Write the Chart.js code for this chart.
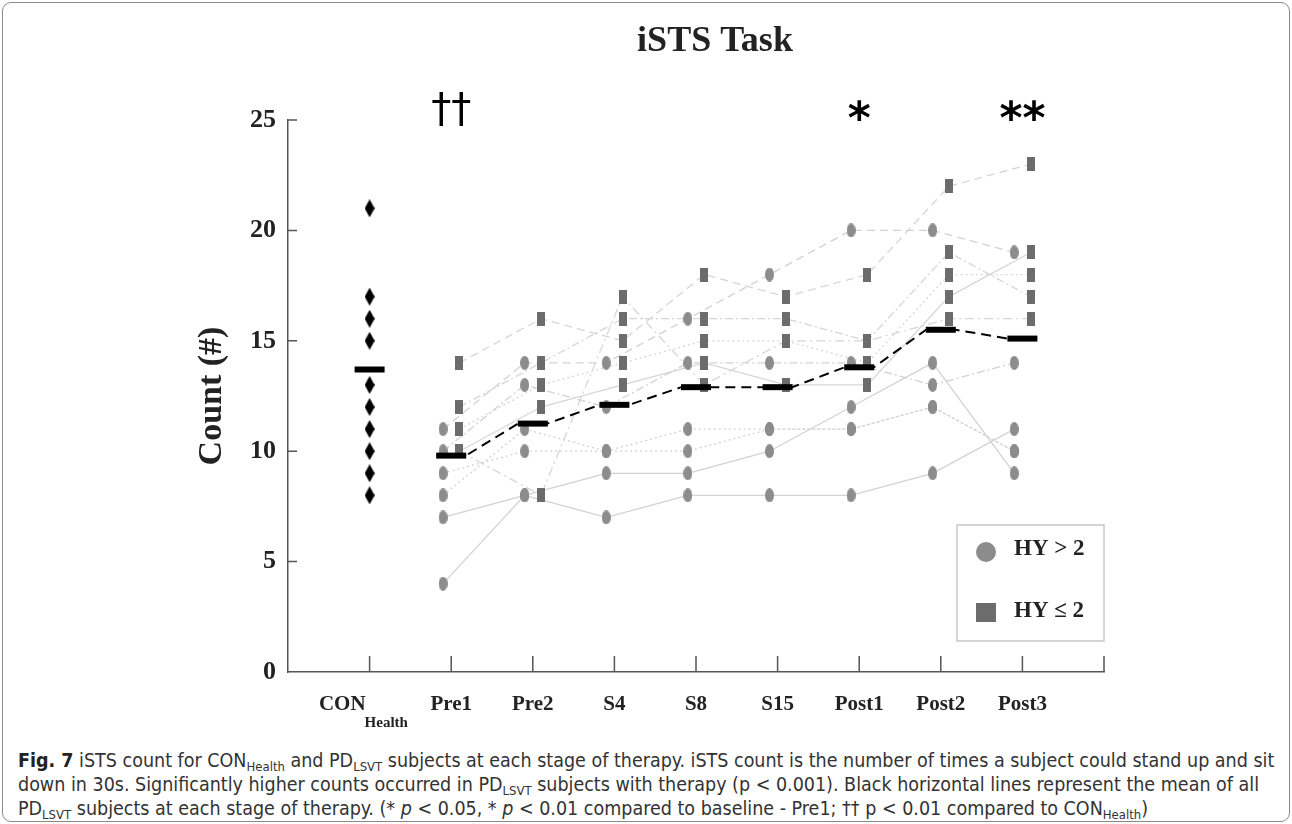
<!DOCTYPE html>
<html>
<head>
<meta charset="utf-8">
<script src="https://cdn.jsdelivr.net/npm/chart.js@4.4.1/dist/chart.umd.min.js"></script>
<style>
  html, body { margin: 0; padding: 0; background: #fff; }
  body { width: 1292px; height: 824px; position: relative; overflow: hidden; }
  #frame { position: absolute; left: 2px; top: 2px; width: 1286px; height: 818px;
           border: 1px solid #8a8a8a; border-radius: 9px; }
  #chartBox { position: absolute; left: 0; top: 0; }
  #caption { position: absolute; left: 18px; top: 749px; width: 1265px;
             font-family: "Liberation Sans Narrow", "DejaVu Sans Condensed", sans-serif;
             font-size: 19.5px; line-height: 24px; color: #333; white-space: nowrap; }
  #caption b { color: #222; }
  #caption sub { font-size: 13px; vertical-align: -4px; line-height: 0; }
</style>
</head>
<body>
<div id="chartBox"><canvas id="istsChart" width="1292" height="745"></canvas></div>
<div id="caption">
  <b>Fig. 7</b> iSTS count for CON<sub>Health</sub> and PD<sub>LSVT</sub> subjects at each stage of therapy. iSTS count is the number of times a subject could stand up and sit<br>
  down in 30s. Significantly higher counts occurred in PD<sub>LSVT</sub> subjects with therapy (p &lt; 0.001). Black horizontal lines represent the mean of all<br>
  PD<sub>LSVT</sub> subjects at each stage of therapy. (* <i>p</i> &lt; 0.05, * <i>p</i> &lt; 0.01 compared to baseline - Pre1; †† p &lt; 0.01 compared to CON<sub>Health</sub>)
</div>
<div id="frame"></div>
<script>
// iSTS 任務：各階段次數

const stages = ['CON', 'Pre1', 'Pre2', 'S4', 'S8', 'S15', 'Post1', 'Post2', 'Post3'];
const yTicks = [0, 5, 10, 15, 20, 25];

// 健康對照組
const conValues = [21, 17, 16, 15, 13, 12, 11, 10, 9, 8];

// 各階段平均（CON, Pre1 ... Post3）
const meanValues = [13.7, 9.8, 11.25, 12.1, 12.9, 12.9, 13.8, 15.5, 15.1];

// HY > 2 受試者（Pre1 ... Post3）
const hyHighA = [7, 8, 7, 8, 8, 8, 9, 11];
const hyHighB = [4, 8, 9, 9, 10, 12, 14, 9];
const hyHighC = [9, 10, 10, 10, 11, 11, 12, 10];
const hyHighD = [8, 11, 10, 11, 11, 11, 12, 10];
const hyHighE = [11, 14, 14, 16, 18, 20, 20, 19];
const hyHighF = [10, 13, 12, 14, 14, 14, 13, 14];

// HY <= 2 受試者
const hyLowA = [14, 16, 15, 18, 17, 18, 22, 23];
const hyLowB = [12, 14, 16, 16, 16, 15, 19, 17];
const hyLowC = [11, 13, 14, 15, 15, 14, 18, 18];
const hyLowD = [10, 12, 13, 14, 13, 13, 17, 19];
const hyLowE = [10, 8, 17, 13, 15, 15, 16, 16];

const hyHighGroup = [hyHighA, hyHighB, hyHighC, hyHighD, hyHighE, hyHighF];
const hyLowGroup = [hyLowA, hyLowB, hyLowC, hyLowD, hyLowE];

const serif = 'Liberation Serif';
const lineDashes = [[], [], [2, 3], [2, 3], [8, 5], [8, 3, 2, 3]];
const lowDashes = [[8, 5], [8, 3, 2, 3], [2, 3], [], [9, 4, 2, 4]];

// 標記圖形
const makeMarker = (w, h, color, shape) => {
    const c = document.createElement('canvas');
    c.width = w; c.height = h;
    const g = c.getContext('2d');
    g.fillStyle = color;
    g.beginPath();
    if (shape === 'ellipse') {
        g.ellipse(w / 2, h / 2, w / 2, h / 2, 0, 0, Math.PI * 2);
    } else if (shape === 'diamond') {
        g.moveTo(w / 2, 0); g.lineTo(w, h / 2); g.lineTo(w / 2, h); g.lineTo(0, h / 2);
    } else {
        g.rect(0, 0, w, h);
    }
    g.fill();
    return c;
};
const circleMark = makeMarker(9, 14, '#8c8c8c', 'ellipse');
const squareMark = makeMarker(8, 14, '#6c6c6c', 'rect');
const diamondMark = makeMarker(10, 18, '#000', 'diamond');

const stageX = (i) => i + 1;
const pdOffset = 0.1;

const subjectPoints = (vals, dx) => vals.map((v, i) => ({ x: stageX(i + 1) + dx, y: v }));

const datasets = [];

// 平均橫線
datasets.push({
    data: meanValues.map((v, i) => ({ x: stageX(i), y: v })),
    pointStyle: 'line', pointRadius: 15, pointBorderWidth: 6,
    pointBorderColor: '#000', showLine: false, order: 0
});
// 平均虛線連接
const meanLink = [];
meanValues.forEach((v, i) => {
    if (i === 0) return;
    meanLink.push({ x: stageX(i) - 0.18, y: v }, { x: stageX(i) + 0.18, y: v });
});
datasets.push({
    data: meanLink, showLine: true, pointRadius: 0,
    borderColor: '#000', borderWidth: 2, borderDash: [10, 6], order: 1
});
// 標記
datasets.push({
    data: conValues.map(v => ({ x: stageX(0), y: v })),
    pointStyle: diamondMark, showLine: false, order: 2
});
datasets.push({
    data: hyHighGroup.flatMap(s => subjectPoints(s, -pdOffset)),
    pointStyle: circleMark, showLine: false, order: 2
});
datasets.push({
    data: hyLowGroup.flatMap(s => subjectPoints(s, pdOffset)),
    pointStyle: squareMark, showLine: false, order: 2
});
// 個別受試者連線
hyHighGroup.forEach((s, k) => datasets.push({
    data: subjectPoints(s, -pdOffset), showLine: true, pointRadius: 0,
    borderColor: '#d2d2d2', borderWidth: 1.3, borderDash: lineDashes[k], order: 5
}));
hyLowGroup.forEach((s, k) => datasets.push({
    data: subjectPoints(s, pdOffset), showLine: true, pointRadius: 0,
    borderColor: '#d6d6d6', borderWidth: 1.3, borderDash: lowDashes[k], order: 5
}));

// 標題、刻度、類別標籤、顯著性符號、圖例
const decorPlugin = {
    id: 'decor',
    afterDraw(chart) {
        const { ctx, scales: { x, y } } = chart;
        ctx.save();

        ctx.fillStyle = '#222';
        ctx.textAlign = 'center';
        ctx.textBaseline = 'alphabetic';
        ctx.font = `bold 36px "${serif}"`;
        ctx.fillText('iSTS Task', (x.left + x.right) / 2 + 19, 51);

        ctx.strokeStyle = '#555';
        ctx.lineWidth = 1.5;
        ctx.beginPath();
        for (let i = 1; i <= 10; i++) {
            const px = x.getPixelForValue(i);
            ctx.moveTo(px, y.bottom);
            ctx.lineTo(px, y.bottom - 16);
        }
        yTicks.slice(1).forEach(v => {
            const py = y.getPixelForValue(v);
            ctx.moveTo(x.left, py);
            ctx.lineTo(x.left + 9, py);
        });
        ctx.stroke();

        ctx.textBaseline = 'middle';
        const labelY = y.bottom + 33;
        stages.forEach((s, i) => {
            const px = x.getPixelForValue(stageX(i));
            ctx.font = `bold 21px "${serif}"`;
            if (i === 0) {
                ctx.textAlign = 'right';
                ctx.fillText(s, px - 4, labelY);
                ctx.font = `bold 15px "${serif}"`;
                ctx.textAlign = 'left';
                ctx.fillText('Health', px - 5, labelY + 18);
            } else {
                ctx.textAlign = 'center';
                ctx.fillText(s, px, labelY);
            }
        });

        ctx.fillStyle = '#000';
        ctx.textAlign = 'center';
        ctx.font = '40px "DejaVu Sans"';
        ctx.fillText('††', x.getPixelForValue(stageX(1)), y.getPixelForValue(25) - 8);
        ctx.font = 'bold 44px "DejaVu Sans"';
        ctx.fillText('*', x.getPixelForValue(stageX(6)), y.getPixelForValue(25) + 2);
        ctx.fillText('**', x.getPixelForValue(stageX(8)), y.getPixelForValue(25) + 2);

        // 圖例
        const boxR = x.right, boxB = y.bottom - 31;
        const boxL = boxR - 147, boxT = boxB - 116;
        ctx.fillStyle = '#fff';
        ctx.fillRect(boxL, boxT, boxR - boxL, boxB - boxT);
        ctx.strokeStyle = '#c8c8c8';
        ctx.lineWidth = 1.5;
        ctx.strokeRect(boxL, boxT, boxR - boxL, boxB - boxT);
        ctx.fillStyle = '#8c8c8c';
        ctx.beginPath();
        ctx.arc(boxL + 29, boxT + 27, 10, 0, Math.PI * 2);
        ctx.fill();
        ctx.fillStyle = '#6c6c6c';
        ctx.fillRect(boxL + 19, boxT + 78, 20, 19);
        ctx.fillStyle = '#222';
        ctx.textAlign = 'left';
        ctx.font = `bold 23px "${serif}"`;
        ctx.fillText('HY > 2', boxL + 57, boxT + 24);
        ctx.fillText('HY ≤ 2', boxL + 57, boxT + 86);
        ctx.restore();
    }
};

new Chart(document.getElementById('istsChart'), {
    type: 'scatter',
    data: { datasets },
    options: {
        responsive: false,
        animation: false,
        events: [],
        layout: { padding: { left: 188, right: 188, top: 120, bottom: 0 } },
        plugins: {
            legend: { display: false },
            tooltip: { enabled: false }
        },
        scales: {
            x: {
                type: 'linear', min: 0, max: 10,
                grid: { display: false },
                border: { color: '#555', width: 1.5 },
                ticks: { display: false },
                afterFit: (s) => { s.height = 73; }
            },
            y: {
                min: 0, max: 25,
                afterBuildTicks: (s) => { s.ticks = yTicks.map(v => ({ value: v })); },
                grid: { display: false, drawTicks: false },
                border: { color: '#555', width: 1.5 },
                ticks: { color: '#222', padding: 12, font: { family: serif, size: 26, weight: 'bold' } },
                title: {
                    display: true, text: 'Count (#)', color: '#222',
                    font: { family: serif, size: 34, weight: 'bold' }, padding: 4
                },
                afterFit: (s) => { s.width = 100; }
            }
        }
    },
    plugins: [decorPlugin]
});
</script>
</body>
</html>
